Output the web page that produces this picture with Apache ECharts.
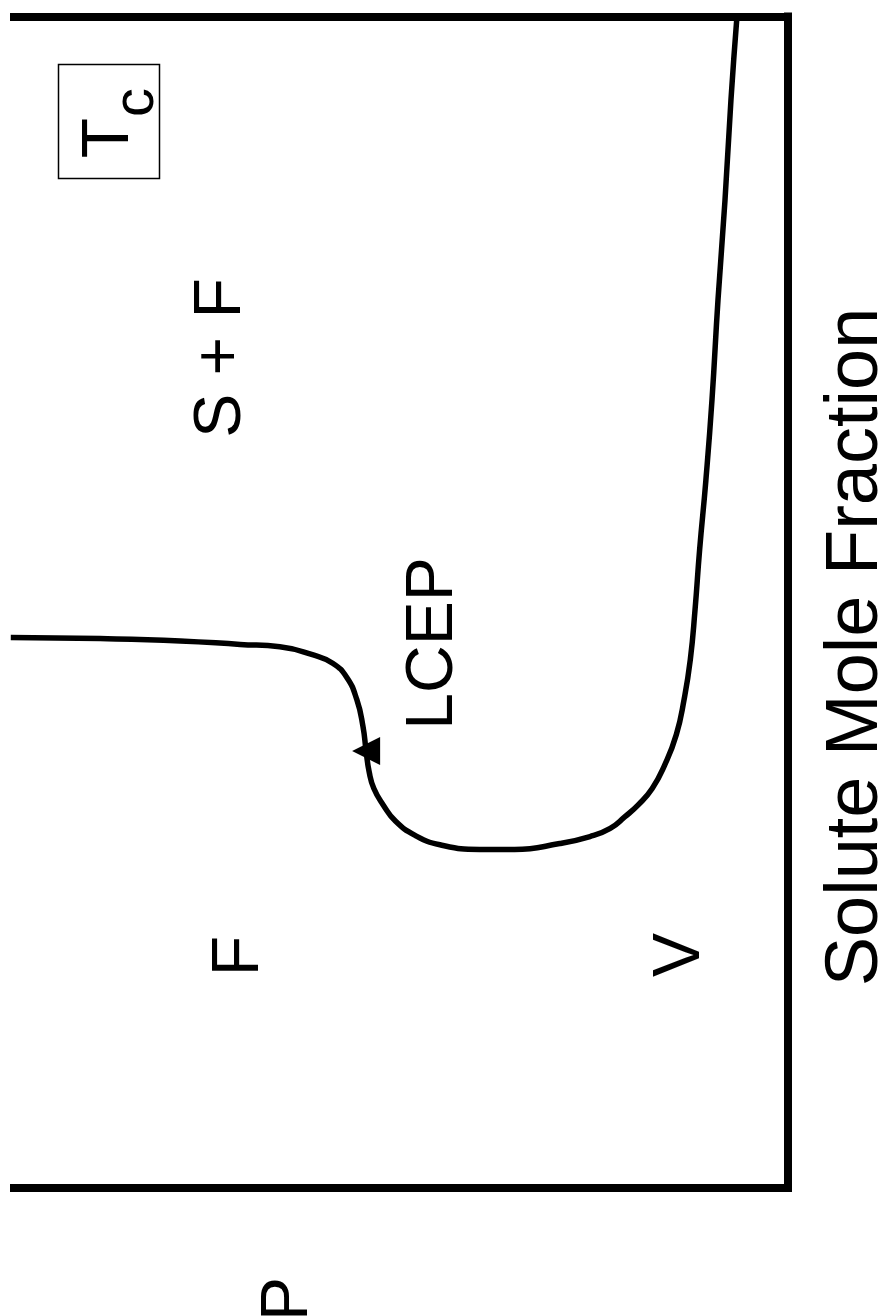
<!DOCTYPE html>
<html>
<head>
<meta charset="utf-8">
<script src="https://cdn.jsdelivr.net/npm/echarts@6/dist/echarts.min.js"></script>
<style>
  html, body { margin: 0; padding: 0; background: #ffffff; }
  #chart { width: 889px; height: 1316px; }
</style>
</head>
<body>
<div id="chart"></div>
<script>
// Solid–fluid solubility curve at T = Tc, traced from high pressure down
// through the LCEP and out to high solute mole fraction at low pressure.
// Pressure is in arbitrary units (0–100), mole fraction runs 0–1.
const pressure = [
  99.9, 88.4, 78.1, 70.4, 65.3, 61.0, 58.5, 56.7, 55.4, 54.6,
  54.2, 53.8, 53.2, 52.0, 50.4, 47.9, 44.7, 39.6, 35.1, 29.3,
  25.4, 22.8, 20.9, 19.2, 17.4, 15.8, 14.3, 13.3, 12.5, 11.9,
  11.3, 10.5, 9.71, 8.94, 8.04, 7.27, 6.50
];
const moleFraction = [
  0.470, 0.469, 0.467, 0.464, 0.462, 0.455, 0.448, 0.436, 0.417, 0.394,
  0.373, 0.355, 0.341, 0.327, 0.313, 0.301, 0.293, 0.289, 0.289, 0.294,
  0.300, 0.307, 0.317, 0.327, 0.341, 0.361, 0.387, 0.417, 0.451, 0.493,
  0.545, 0.604, 0.673, 0.758, 0.843, 0.929, 1.000
];

// Lower critical end point on the curve: [pressure, mole fraction]
const lcep = [54.2, 0.373];

// Phase-region labels and where they sit, in pressure / mole-fraction units
const regionNames = ['S + F', 'LCEP', 'F', 'V'];
const regionPressure = [72.7, 45.5, 70.4, 13.7];
const regionFraction = [0.7085, 0.4648, 0.198, 0.199];

const FONT = "'Liberation Sans', Arial, Helvetica, sans-serif";
const INK = '#000000';

const chart = echarts.init(document.getElementById('chart'), null, { renderer: 'canvas' });

const curveData = pressure.map((p, i) => [p, moleFraction[i]]);
const frameLine = { show: true, lineStyle: { color: INK, width: 8, cap: 'butt' } };

chart.setOption({
  animation: false,
  backgroundColor: '#ffffff',
  grid: { left: 10, right: 101.5, top: 16.5, bottom: 128, containLabel: false },
  xAxis: [
    {
      type: 'value', position: 'bottom', min: 0, max: 100, inverse: true,
      axisLine: frameLine, axisTick: { show: false }, axisLabel: { show: false },
      splitLine: { show: false }
    },
    {
      type: 'value', position: 'top', min: 0, max: 100, inverse: true,
      axisLine: frameLine, axisTick: { show: false }, axisLabel: { show: false },
      splitLine: { show: false }
    }
  ],
  yAxis: {
    type: 'value', position: 'right', min: 0, max: 1,
    axisLine: { show: true, lineStyle: { color: INK, width: 8, cap: 'square' } },
    axisTick: { show: false }, axisLabel: { show: false }, splitLine: { show: false }
  },
  series: [
    {
      type: 'line',
      data: curveData,
      smooth: 0.5,
      showSymbol: false,
      symbol: 'none',
      lineStyle: { color: INK, width: 5.5 },
      z: 3
    },
    {
      // arrowhead marking the LCEP, pointing toward higher pressure
      type: 'scatter',
      data: [lcep],
      symbol: 'triangle',
      symbolSize: [28, 28],
      symbolRotate: 90,
      itemStyle: { color: INK, opacity: 1 },
      emphasis: { disabled: true },
      z: 4
    }
  ]
});

// Rotated text, read bottom-to-top like the rest of the figure
function vText(x, y, text, size) {
  return {
    type: 'text', x: x, y: y, rotation: Math.PI / 2, z: 10,
    style: { text: text, font: size + 'px ' + FONT, fill: INK, align: 'center', verticalAlign: 'middle' }
  };
}

// Region labels placed through the grid's own scales
const regionGraphics = regionNames.map((name, i) => {
  const pt = chart.convertToPixel({ gridIndex: 0 }, [regionPressure[i], regionFraction[i]]);
  return vText(pt[0], pt[1], name, 66);
});

chart.setOption({
  graphic: [
    // Tc tag in its box
    {
      type: 'rect', z: 10,
      shape: { x: 58.5, y: 64.5, width: 101, height: 114 },
      style: { fill: 'none', stroke: INK, lineWidth: 1.5 }
    },
    vText(110, 138, 'T', 66),
    vText(137, 102.5, 'c', 58),
    // axis titles
    vText(857, 647, 'Solute Mole Fraction', 74),
    vText(289, 1299, 'P', 66)
  ].concat(regionGraphics)
});
</script>
</body>
</html>
